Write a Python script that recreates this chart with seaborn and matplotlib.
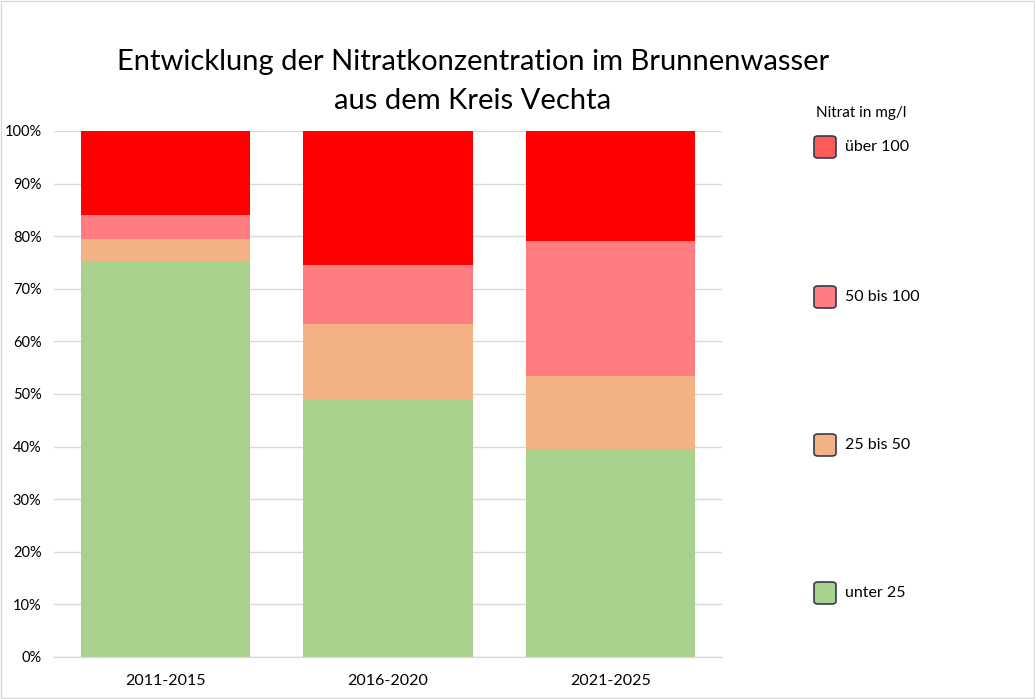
import numpy as np
import pandas as pd
import matplotlib
matplotlib.use('Agg')
import matplotlib.pyplot as plt
import seaborn as sns
from matplotlib.patches import FancyBboxPatch, Rectangle

# data (percent shares per period)
zeitraum = ['2011-2015', '2016-2020', '2021-2025']
klassen = ['unter 25', '25 bis 50', '50 bis 100', 'über 100']
unter_25 = [75.0, 49.0, 39.5]
bis_50 = [4.5, 14.3, 13.9]
bis_100 = [4.5, 11.2, 25.7]
ueber_100 = [16.0, 25.5, 20.9]
farben = ['#a9d18e', '#f4b183', '#ff7c80', '#ff0000']
legend_farben = ['#a9d18e', '#f4b183', '#ff7c80', '#ff5a5a']

sns.set_style('white')
plt.rcParams['font.family'] = ['Lato', 'DejaVu Sans']
plt.rcParams['text.color'] = 'black'
plt.rcParams['xtick.color'] = 'black'
plt.rcParams['ytick.color'] = 'black'

werte = np.array([unter_25, bis_50, bis_100, ueber_100])
kum = werte.cumsum(axis=0)

fig = plt.figure(figsize=(10.35, 6.99), dpi=100)
ax = fig.add_axes([0.0522, 0.0601, 0.6454, 0.7525])

# stacked bars: draw cumulative heights, tallest first
for i in range(len(klassen) - 1, -1, -1):
    df = pd.DataFrame({'zeitraum': zeitraum, 'wert': kum[i]})
    sns.barplot(data=df, x='zeitraum', y='wert', color=farben[i], width=0.76,
                saturation=1, linewidth=0, edgecolor='none', ax=ax, zorder=2)

ax.set_ylim(0, 100)
ax.set_xlim(-0.5, 2.5)
ax.set_yticks(np.arange(0, 101, 10))
ax.set_yticklabels([f'{v}%' for v in range(0, 101, 10)], fontsize=10.5)
ax.tick_params(axis='y', length=0, pad=9)
ax.tick_params(axis='x', length=0, pad=12, labelsize=11.5)
ax.set_xlabel('')
ax.set_ylabel('')
ax.grid(axis='y', color='#d9d9d9', linewidth=1, zorder=0)
ax.set_axisbelow(True)
for s in ['top', 'right', 'left']:
    ax.spines[s].set_visible(False)
ax.spines['bottom'].set_color('#d9d9d9')
ax.spines['bottom'].set_linewidth(1)
# category separator ticks
ax.set_xticks([-0.5, 0.5, 1.5, 2.5], minor=True)
ax.tick_params(axis='x', which='minor', length=10, color='#d9d9d9', width=1)

fig.text(0.457, 0.912, 'Entwicklung der Nitratkonzentration im Brunnenwasser',
         ha='center', va='center', fontsize=21)
fig.text(0.457, 0.855, 'aus dem Kreis Vechta', ha='center', va='center', fontsize=21)

# legend
fig.text(0.788, 0.838, 'Nitrat in mg/l', ha='left', va='center', fontsize=11)
leg_y = [593, 445, 297, 147]
for name, col, yp in zip(klassen, legend_farben, leg_y):
    yc = 1 - yp / 699
    w = 22 / 1035
    h = 22 / 699
    box = FancyBboxPatch((814 / 1035, yc - h / 2), w, h,
                         boxstyle='round,pad=0,rounding_size=0.004',
                         transform=fig.transFigure, facecolor=col,
                         edgecolor='#2f3d4f', linewidth=1.2)
    fig.patches.append(box)
    fig.text(845 / 1035, yc, name, ha='left', va='center', fontsize=11.5)

# outer border
fig.patches.append(Rectangle((0.001, 0.001), 0.998, 0.998, transform=fig.transFigure,
                             fill=False, edgecolor='#d9d9d9', linewidth=1))

fig.savefig('out.png', dpi=100)
